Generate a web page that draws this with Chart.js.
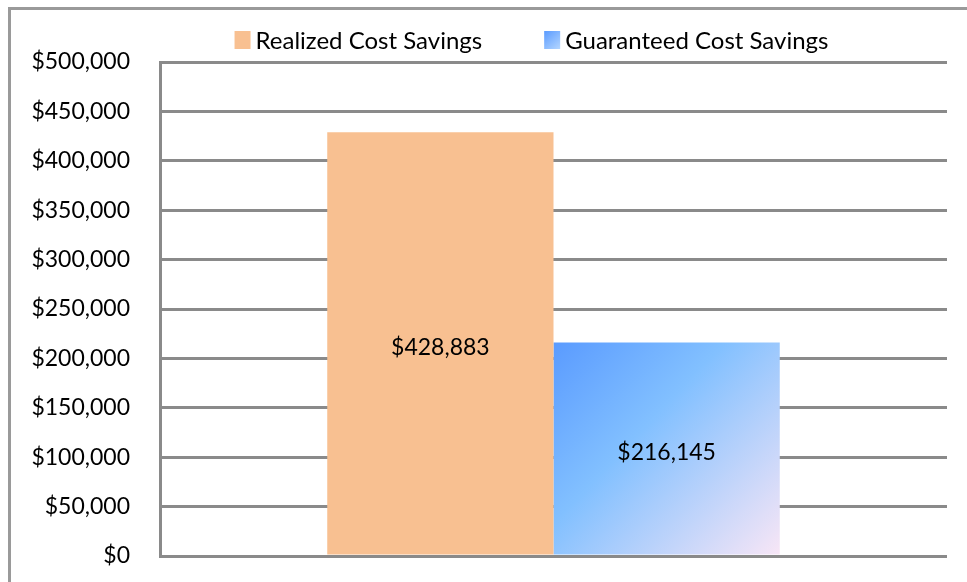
<!DOCTYPE html>
<html>
<head>
<meta charset="utf-8">
<script src="https://cdn.jsdelivr.net/npm/chart.js@4.4.1/dist/chart.umd.min.js"></script>
<style>
  html, body { margin: 0; padding: 0; background: #fff; overflow: hidden; }
  #frame {
    position: absolute; left: 8px; top: 7px;
    width: 1100px; height: 700px;
    border: 3px solid #9a9a9a;
  }
  #chart { position: absolute; left: 0; top: 0; }
</style>
</head>
<body>
<div id="frame"></div>
<canvas id="chart" width="967" height="582"></canvas>
<script>
var categories = ["Cost Savings"];
var realized = [428883];
var guaranteed = [216145];
var seriesNames = ["Realized Cost Savings", "Guaranteed Cost Savings"];
var tickValues = [0, 50000, 100000, 150000, 200000, 250000, 300000, 350000, 400000, 450000, 500000];

var FONT = "Lato";
var FONT_SIZE = 23;
var orange = "#f8c091";
var GRID = "#8a8a8a";

function money(v){
  return "$" + Number(v).toLocaleString("en-US");
}

// gradient for the guaranteed bar, computed from the scales
function blueFill(ctx){
  var chart = ctx.chart;
  var area = chart.chartArea;
  if(!area) return "#7fbcff";
  var y = chart.scales.y;
  var x = chart.scales.x;
  var cw = (area.right - area.left) / categories.length;
  var bw = cw * 0.575 / 2;
  var cx = x.getPixelForValue(ctx.dataIndex);
  var top = y.getPixelForValue(guaranteed[ctx.dataIndex]);
  var bot = y.getPixelForValue(0);
  var g = chart.ctx.createLinearGradient(cx, top, cx + bw, bot);
  g.addColorStop(0, "#5a9bff");
  g.addColorStop(0.4, "#82c0ff");
  g.addColorStop(1, "#f8e6f6");
  return g;
}

var legendPlugin = {
  id: "topLegend",
  afterDraw: function(chart){
    var c = chart.ctx;
    c.save();
    c.font = "24px " + FONT;
    c.textBaseline = "middle";
    c.textAlign = "left";
    var box = 16, boxH = 18, gap = 5, spacing = 62;
    var widths = seriesNames.map(function(t){ return c.measureText(t).width; });
    var total = 0;
    widths.forEach(function(w, i){ total += box + gap + w + (i ? spacing : 0); });
    var x = 531.5 - total / 2;
    var yc = 40;
    seriesNames.forEach(function(name, i){
      if(i == 0){
        c.fillStyle = orange;
      } else {
        var g = c.createLinearGradient(x, yc - boxH/2, x + box, yc + boxH/2);
        g.addColorStop(0, "#5a9bff");
        g.addColorStop(1, "#b4d6ff");
        c.fillStyle = g;
      }
      c.fillRect(x, yc - boxH/2, box, boxH);
      c.fillStyle = "#000";
      c.fillText(name, x + box + gap, yc + 1);
      x += box + gap + widths[i] + spacing;
    });
    c.restore();
  }
};

var labelPlugin = {
  id: "barLabels",
  afterDatasetsDraw: function(chart){
    var c = chart.ctx;
    c.save();
    c.font = FONT_SIZE + "px " + FONT;
    c.fillStyle = "#000";
    c.textAlign = "center";
    c.textBaseline = "middle";
    chart.data.datasets.forEach(function(ds, di){
      chart.getDatasetMeta(di).data.forEach(function(el, i){
        c.fillText(money(ds.data[i]), el.x, (el.y + el.base) / 2 + 4);
      });
    });
    c.restore();
  }
};

var line_chart = new Chart(document.getElementById("chart"), {
  type: "bar",
  data: {
    labels: categories,
    datasets: [{
      label: seriesNames[0],
      data: realized,
      backgroundColor: orange,
      barPercentage: 1,
      categoryPercentage: 0.575
    }, {
      label: seriesNames[1],
      data: guaranteed,
      backgroundColor: blueFill,
      barPercentage: 1,
      categoryPercentage: 0.575
    }]
  },
  options: {
    responsive: false,
    animation: false,
    devicePixelRatio: 1,
    layout: { padding: { top: 62, right: 20, bottom: 26, left: 0 } },
    plugins: {
      legend: { display: false },
      tooltip: { enabled: false }
    },
    scales: {
      x: { display: false },
      y: {
        min: 0,
        max: 500000,
        afterFit: function(scale){
          scale.width = 160;
          scale.paddingTop = 0;
          scale.paddingBottom = 0;
        },
        afterBuildTicks: function(scale){
          scale.ticks = tickValues.map(function(v){ return { value: v }; });
        },
        grid: { color: GRID, lineWidth: 3, drawTicks: false },
        border: { display: true, color: GRID, width: 3 },
        ticks: {
          padding: 30,
          color: "#000",
          font: { family: FONT, size: FONT_SIZE },
          callback: function(v){ return money(v); }
        }
      }
    }
  },
  plugins: [legendPlugin, labelPlugin]
});
</script>
</body>
</html>
